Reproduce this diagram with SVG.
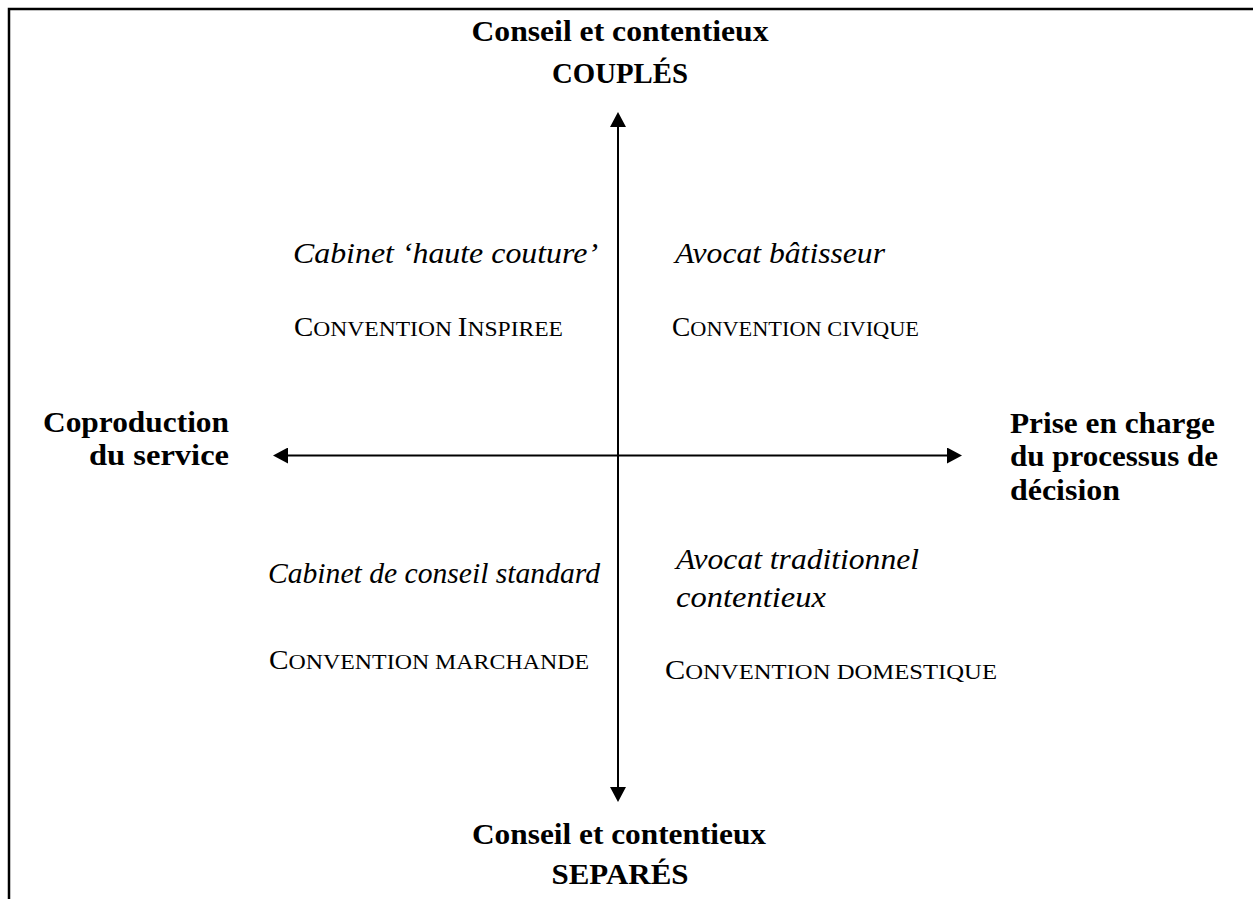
<svg xmlns="http://www.w3.org/2000/svg" width="1253" height="899" viewBox="0 0 1253 899">
<style>
text{font-family:"Liberation Serif","Times New Roman",serif;fill:#000}
.b{font-weight:bold;font-size:30px}
.i{font-style:italic;font-size:30px}
.sc{font-size:27px}
.s{font-size:22px}
.ax{stroke:#000;stroke-width:2;fill:none;marker-start:url(#ah);marker-end:url(#ah)}
</style>
<defs>
<marker id="ah" markerUnits="userSpaceOnUse" markerWidth="16" markerHeight="16" refX="0" refY="8" orient="auto-start-reverse">
<path d="M0,0 L15,8 L0,16 Z" fill="#000"/>
</marker>
</defs>
<rect width="1253" height="899" fill="#fff"/>
<path d="M9,899 V9 H1253" stroke="#000" stroke-width="2.5" fill="none"/>
<g id="connectors">
<path class="ax" d="M618,787 V127"/>
<path class="ax" d="M288,455.5 H947"/>
</g>
<g id="title-top">
<text class="b" x="620" y="41" text-anchor="middle" textLength="297" lengthAdjust="spacingAndGlyphs">Conseil et contentieux</text>
<text class="b" x="620" y="83" text-anchor="middle" textLength="136" lengthAdjust="spacingAndGlyphs">COUPLÉS</text>
</g>
<g id="title-bottom">
<text class="b" x="619" y="844" text-anchor="middle" textLength="294" lengthAdjust="spacingAndGlyphs">Conseil et contentieux</text>
<text class="b" x="620" y="884" text-anchor="middle" textLength="137" lengthAdjust="spacingAndGlyphs">SEPARÉS</text>
</g>
<g id="label-left">
<text class="b" x="229" y="432" text-anchor="end" textLength="186" lengthAdjust="spacingAndGlyphs">Coproduction</text>
<text class="b" x="229" y="465" text-anchor="end" textLength="140" lengthAdjust="spacingAndGlyphs">du service</text>
</g>
<g id="label-right">
<text class="b" x="1010" y="433" textLength="205" lengthAdjust="spacingAndGlyphs">Prise en charge</text>
<text class="b" x="1010" y="466" textLength="208" lengthAdjust="spacingAndGlyphs">du processus de</text>
<text class="b" x="1010" y="500" textLength="110" lengthAdjust="spacingAndGlyphs">décision</text>
</g>
<g id="quadrant-top-left">
<text class="i" x="293" y="263" textLength="305" lengthAdjust="spacingAndGlyphs">Cabinet ‘haute couture’</text>
<text class="sc" x="294" y="336" textLength="269" lengthAdjust="spacingAndGlyphs">C<tspan class="s">ONVENTION </tspan>I<tspan class="s">NSPIREE</tspan></text>
</g>
<g id="quadrant-top-right">
<text class="i" x="675" y="263" textLength="210" lengthAdjust="spacingAndGlyphs">Avocat bâtisseur</text>
<text class="sc" x="672" y="336" textLength="247" lengthAdjust="spacingAndGlyphs">C<tspan class="s">ONVENTION CIVIQUE</tspan></text>
</g>
<g id="quadrant-bottom-left">
<text class="i" x="268" y="583" textLength="332" lengthAdjust="spacingAndGlyphs">Cabinet de conseil standard</text>
<text class="sc" x="269" y="669" textLength="320" lengthAdjust="spacingAndGlyphs">C<tspan class="s">ONVENTION MARCHANDE</tspan></text>
</g>
<g id="quadrant-bottom-right">
<text class="i" x="676" y="569" textLength="243" lengthAdjust="spacingAndGlyphs">Avocat traditionnel</text>
<text class="i" x="676" y="607" textLength="150" lengthAdjust="spacingAndGlyphs">contentieux</text>
<text class="sc" x="665" y="679" textLength="332" lengthAdjust="spacingAndGlyphs">C<tspan class="s">ONVENTION DOMESTIQUE</tspan></text>
</g>
</svg>
